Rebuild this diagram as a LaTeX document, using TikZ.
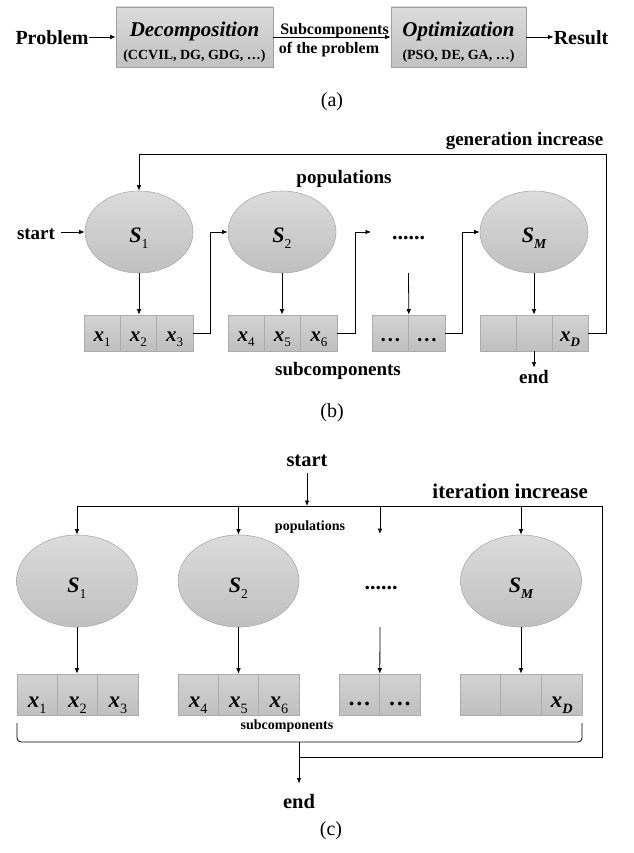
\documentclass[tikz,border=0pt]{standalone}
\usepackage{fontspec}
\setmainfont{Liberation Serif}
\usetikzlibrary{shapes.geometric,arrows.meta}
\newcommand{\fs}[1]{\fontsize{#1}{#1}\selectfont}
\newcommand{\bi}[1]{\textbf{\textit{#1}}}
\newcommand{\sbn}[1]{\raisebox{-0.28em}{\scalebox{0.62}{\mdseries\upshape #1}}}
\newcommand{\sbi}[1]{\raisebox{-0.28em}{\scalebox{0.62}{\bfseries\itshape #1}}}
\begin{document}
\begin{tikzpicture}[x=1pt,y=-1pt,
  ln/.style={line width=0.8pt},
  arr/.style={ln,-{Latex[length=5.5pt,width=4.5pt]}},
  txt/.style={inner sep=0pt,anchor=base},
  bigbox/.style={draw=gray!75,line width=0.6pt,top color=gray!28,bottom color=gray!48,minimum height=60pt,inner sep=0pt},
  ellb/.style={ellipse,draw=gray!65,line width=0.6pt,top color=gray!28,bottom color=gray!50,inner sep=0pt,minimum width=108pt,minimum height=82pt,text height=22pt,text depth=2pt,font=\fs{22}},
  ellc/.style={ellb,minimum width=121pt,minimum height=92pt,text height=24pt,text depth=2pt},
  cellb/.style={draw=gray!65,line width=0.6pt,top color=gray!35,bottom color=gray!50,minimum width=36.3pt,minimum height=36pt,inner sep=0pt,text height=18pt,text depth=2pt,font=\fs{21}},
  cellc/.style={cellb,minimum width=40.4pt,minimum height=41pt,text height=27pt,text depth=2pt,font=\fs{23}}
]
\useasboundingbox (0,0) rectangle (633,853);

% ---------- (a)
\node[txt,font=\bfseries\fs{20}] (prob) at (52,45) {Problem};
\node[bigbox,minimum width=157pt] (dec) at (194.5,37) {};
\node[txt,font=\fs{21}\bfseries\itshape] (dect) at (194.5,37) {Decomposition};
\node[txt,font=\bfseries\fs{14}] (decs) at (194.5,60) {(CCVIL, DG, GDG, …)};
\node[bigbox,minimum width=135pt] (opt) at (458.5,37) {};
\node[txt,font=\fs{21}\bfseries\itshape] (optt) at (458.5,37) {Optimization};
\node[txt,font=\bfseries\fs{14}] (opts) at (458.5,60) {(PSO, DE, GA, …)};
\node[txt,font=\bfseries\fs{20}] (res) at (581,45) {Result};
\draw[arr] (prob.east |- dec.west) -- (dec.west);
\draw[arr] (dec.east) -- (opt.west);
\draw[arr] (opt.east) -- (res.west |- opt.east);
\node[txt,font=\bfseries\fs{16}] (sub1) at (334.5,35) {Subcomponents};
\node[txt,font=\bfseries\fs{16}] (sub2) at (329,54) {of the problem};
\node[txt,font=\fs{20}] (la) at (332,107) {(a)};

% ---------- (b)
\node[txt,font=\bfseries\fs{19}] (gen) at (524.5,146) {generation increase};
\node[txt,font=\bfseries\fs{19}] (popb) at (344,183) {populations};
\node[txt,font=\bfseries\fs{19}] (stb) at (36,239) {start};
\node[ellb] (b1) at (139,232) {\bi{S}\sbn{1}};
\node[ellb] (b2) at (282,232) {\bi{S}\sbn{2}};
\node[txt,font=\bfseries\fs{22}] (dotb) at (408.5,239) {......};
\node[ellb] (bM) at (534,232) {\bi{S}\sbi{M}};

\node[cellb] (c1) at (102.15,333) {\bi{x}\sbn{1}};
\node[cellb] (c2) at (138.45,333) {\bi{x}\sbn{2}};
\node[cellb] (c3) at (174.75,333) {\bi{x}\sbn{3}};
\node[cellb] (c4) at (246.15,333) {\bi{x}\sbn{4}};
\node[cellb] (c5) at (282.45,333) {\bi{x}\sbn{5}};
\node[cellb] (c6) at (318.75,333) {\bi{x}\sbn{6}};
\node[cellb,minimum width=36.5pt] (c7) at (390.25,333) {\textbf{…}};
\node[cellb,minimum width=36.5pt] (c8) at (426.75,333) {\textbf{…}};
\node[cellb,minimum width=36pt] (c9) at (498,333) {};
\node[cellb,minimum width=36pt] (c10) at (534,333) {};
\node[cellb,minimum width=36pt] (c11) at (570,333) {\bi{x}\sbi{D}};

\node[txt,font=\bfseries\fs{19}] (subb) at (338,375) {subcomponents};
\node[txt,font=\bfseries\fs{19}] (eb) at (534,383) {end};
\node[txt,font=\fs{20}] (lb) at (332,417) {(b)};

\coordinate (cb) at (371,232);
\coordinate (db) at (408.5,273);
\draw[arr] ([xshift=6pt]stb.east |- b1.west) -- (b1.west);
\draw[arr] (b1.south) -- (b1.south |- c2.north);
\draw[arr] (c3.east) -- ++(17,0) |- (b2.west);
\draw[arr] (b2.south) -- (b2.south |- c5.north);
\draw[arr] (c6.east) -- ++(18,0) |- (cb);
\draw[arr] (db) -- (c7.north east);
\draw[arr] (c8.east) -- ++(17,0) |- (bM.west);
\draw[arr] (bM.south) -- (bM.south |- c10.north);
\draw[arr] (c10.south) -- ([yshift=2pt]eb.north);
\draw[arr] (c11.east) -| (606,154) -| (b1.north);

% ---------- (c)
\node[txt,font=\bfseries\fs{20.5}] (stc) at (307,466) {start};
\node[txt,font=\bfseries\fs{21},anchor=base east] (iti) at (588,498) {iteration increase};
\node[txt,font=\bfseries\fs{14}] (popc) at (310,530) {populations};
\coordinate (tj) at (307,506);
\coordinate (tl) at (77,506);
\coordinate (tr) at (602,506);
\coordinate (br) at (602,757);
\coordinate (bj) at (299,757);
\draw[arr] ([yshift=-7pt]stc.south) -- (tj);
\draw[ln] (tl) -- (tr) -- (br) -- (bj);

\node[ellc] (s1) at (77,581) {\bi{S}\sbn{1}};
\node[ellc] (s2) at (238.5,581) {\bi{S}\sbn{2}};
\node[txt,font=\bfseries\fs{22}] (dotc) at (381,589) {......};
\node[ellc] (sM) at (521,581) {\bi{S}\sbi{M}};

\node[cellc] (d1) at (37.17,694.5) {\bi{x}\sbn{1}};
\node[cellc] (d2) at (77.5,694.5) {\bi{x}\sbn{2}};
\node[cellc] (d3) at (117.83,694.5) {\bi{x}\sbn{3}};
\node[cellc] (d4) at (198.17,694.5) {\bi{x}\sbn{4}};
\node[cellc] (d5) at (238.5,694.5) {\bi{x}\sbn{5}};
\node[cellc] (d6) at (278.83,694.5) {\bi{x}\sbn{6}};
\node[cellc,minimum width=40.5pt,text height=23pt] (d7) at (359.25,694.5) {\textbf{…}};
\node[cellc,minimum width=40.5pt,text height=23pt] (d8) at (399.75,694.5) {\textbf{…}};
\node[cellc,minimum width=40.67pt] (d9) at (480.33,694.5) {};
\node[cellc,minimum width=40.67pt] (d10) at (521,694.5) {};
\node[cellc,minimum width=40.67pt] (d11) at (561.67,694.5) {\bi{x}\sbi{D}};

\coordinate (dtop) at (380,506);
\coordinate (dend) at (380,534);
\coordinate (dmid) at (380,627);
\draw[arr] (s1.north |- tl) -- (s1.north);
\draw[arr] (s2.north |- tl) -- (s2.north);
\draw[arr] (dtop) -- (dend);
\draw[arr] (sM.north |- tl) -- (sM.north);
\draw[arr] (s1.south) -- (s1.south |- d2.north);
\draw[arr] (s2.south) -- (s2.south |- d5.north);
\draw[arr] (dmid) -- (d7.north east);
\draw[arr] (sM.south) -- (sM.south |- d10.north);

\node[txt,font=\bfseries\fs{14}] (subc) at (287,729) {subcomponents};
\draw[ln,rounded corners=4pt] (17,723) |- (582,742) -- (582,723);
\coordinate (bs) at (299,742);
\node[txt,font=\bfseries\fs{20.5}] (endc) at (299,808) {end};
\draw[arr] (bs) -- ([yshift=10pt]endc.north);
\node[txt,font=\fs{20}] (lc) at (331,835) {(c)};
\end{tikzpicture}
\end{document}
